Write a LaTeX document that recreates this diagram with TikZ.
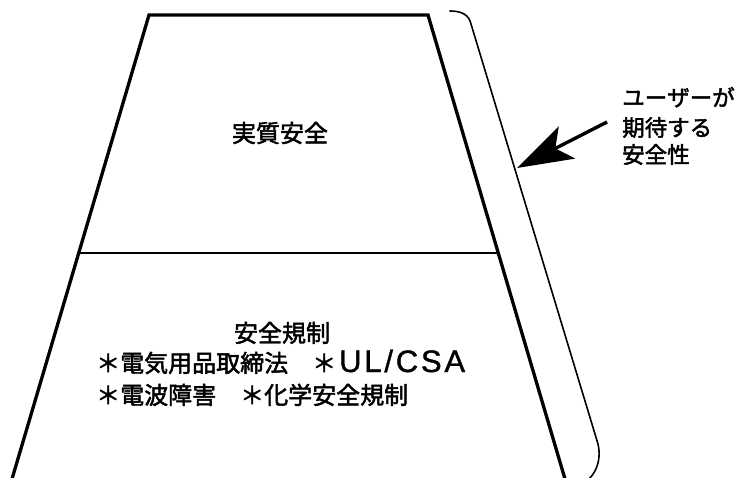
\documentclass[tikz,border=0pt]{standalone}
\usepackage{fontspec}
\newfontfamily\jp{Noto Sans CJK JP}[Kerning=Off,FakeBold=2]
\newfontfamily\lat{Liberation Sans}[LetterSpace=9,FakeBold=1.2]
\newcommand\fwc[1]{\makebox[1em][c]{#1}}
\usetikzlibrary{arrows.meta,calc}
\begin{document}
\begin{tikzpicture}[x=1pt,y=-1pt,
  edge/.style={line width=3.3pt, line join=miter},
  thin line/.style={line width=1.4pt},
  brace line/.style={line width=1.6pt, line cap=round},
  big/.style={font=\jp\fontsize{24}{28}\selectfont, inner sep=0pt},
  side/.style={font=\jp\fontsize{22.5}{26}\selectfont, inner sep=0pt, anchor=base west},
  pointer/.style={line width=3.4pt, -{Stealth[length=56pt,width=36pt,inset=13pt]}}]
\useasboundingbox (0,0) rectangle (743,477);
\fill[white] (0,0) rectangle (743,477);
% trapezoid
\coordinate (tl) at (149,15);
\coordinate (tr) at (428,15);
\coordinate (bl) at (12,479);
\coordinate (br) at (565,479);
\draw[edge] (bl) -- (tl) -- (tr) -- (br);
\coordinate (ml) at ($(tl)!0.513!(bl)$);
\coordinate (mr) at ($(tr)!0.513!(br)$);
\draw[thin line] (ml) -- (mr);
% bracket
\coordinate (b0) at (450,11);
\coordinate (b1) at (471,24);
\coordinate (b2) at (598,444);
\coordinate (b3) at (589,479);
\draw[brace line] (b0) .. controls (462,11) and (469,15) .. (b1) -- (b2) .. controls (601,457) and (598,470) .. (b3);
% texts
\node[big] (top) at (280,133) {実質安全};
\node[big, anchor=base] (reg) at (282,342) {安全規制};
\node[big, anchor=base west] (l2) at (96,372) {＊電気用品取締法　＊\hspace{3pt}{\lat\fontsize{31}{31}\selectfont UL/CSA}};
\node[big, anchor=base west] (l3) at (96,404) {＊電波障害　＊化学安全規制};
\node[side] (s1) at (622,106) {\fwc{ユ}\fwc{ー}\fwc{ザ}\fwc{ー}\fwc{が}};
\node[side] (s2) at (622,136) {\fwc{期}\fwc{待}\fwc{す}\fwc{る}};
\node[side] (s3) at (622,163) {安全性};
% arrow
\coordinate (atail) at (607,122);
\coordinate (atip) at (517,168);
\draw[pointer] (atail) -- (atip);
\end{tikzpicture}
\end{document}
